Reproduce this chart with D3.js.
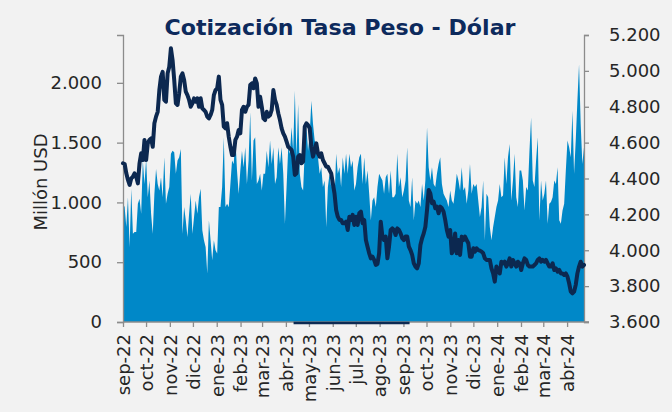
<!DOCTYPE html>
<html>
<head>
<meta charset="utf-8">
<script src="https://cdn.jsdelivr.net/npm/d3@7"></script>
<style>
  body { margin: 0; background: #f2f2f2; }
  svg { display: block; }
</style>
</head>
<body>
<script>
// datos (muestras regulares entre inicio y fin)
var fechaInicio = new Date(2022, 8, 1)
var fechaFin = new Date(2024, 3, 23)

// volumen negociado, millones de USD (eje izquierdo)
var volumen = [
  989, 961, 794, 1044, 628, 1114, 739, 753, 753, 989,
  1030, 906, 1350, 1155, 1364, 1044, 1183, 906, 739, 1072,
  1280, 1155, 1100, 1211, 1044, 1378, 989, 1072, 1128, 1406,
  1433, 1419, 1239, 1350, 1378, 1447, 739, 961, 850, 711,
  906, 1072, 739, 878, 1017, 906, 1044, 1114, 767, 683,
  628, 405, 850, 683, 517, 683, 600, 572, 961, 961,
  1128, 1544, 961, 989, 961, 1155, 1350, 1322, 1544,
  1267, 1072, 1267, 1433, 1294, 1461, 1155, 1350, 1753, 1183,
  1517, 1544, 1155, 1183, 1239, 1100, 1239, 1239, 1433, 1294,
  1517, 1322, 1461, 1155, 1211, 1461, 1322, 1461, 1239, 822,
  1128, 1461, 1406, 1628, 1433, 1933, 1378, 1822, 1239, 1128,
  1100, 1433, 1628, 1433, 1572, 1850, 1656, 1517, 1489, 1378,
  1239, 1294, 1128, 1183, 794, 1128, 1239, 1128, 1239, 1017,
  1406, 1239, 1294, 1128, 1378, 1239, 1406, 1239, 1406, 1294,
  1350,
  1100, 1155, 1294, 1378, 1406, 1155, 1378, 1155, 1267, 1072,
  850, 1017, 1044, 961, 1128, 1239, 1211, 1183, 1072, 1211,
  1239, 1072, 1267, 1044, 1044, 1072, 1406, 1128, 1211, 1044,
  1100, 1183, 1461, 1017, 961, 1211, 850, 1017, 989, 1017,
  961, 1155, 1017, 1183, 1628, 1294, 1183, 1294, 1155, 1128,
  1239, 1322, 1378, 1155, 1072, 1044, 1017, 961, 1100, 1017,
  989, 1100, 1239, 1183, 1100, 1294, 1100, 1128, 989, 1100,
  1322,
  1072, 1155, 1128, 1155, 1017, 878, 961, 1183, 683, 1072,
  1044, 794, 683, 794, 878, 961, 1017, 1155, 1044, 1058,
  1378, 1155, 1378, 1489, 1017, 1183, 1406, 1044, 961, 1267,
  1267, 1183, 933, 1128, 1100, 1433, 1711, 1183, 1128, 1350,
  1544, 850, 1183, 1017, 1072, 1183, 822, 989, 1003, 1044,
  1183, 1155, 1294, 850, 822, 933, 989, 1267, 1517, 1461,
  1378, 1767, 1239, 1517, 1850, 2156, 1656, 1322, 1461
]

// tasa de cambio COP por USD (eje derecho)
var tasa = [
  4485, 4481, 4429, 4392, 4364, 4401, 4410, 4429, 4410, 4373,
  4485, 4540, 4503, 4615, 4503, 4596, 4615, 4624, 4577, 4708,
  4745, 4772, 4893, 4968, 4995, 4838, 4828, 4986, 5023, 5126,
  5061, 4949, 4819, 4810, 4875, 4968, 4986, 4949, 4884, 4865,
  4838, 4800, 4819, 4847, 4828, 4847, 4800, 4847, 4791, 4782,
  4772, 4745, 4735, 4754, 4782, 4865, 4893, 4903, 4968, 4838,
  4810, 4689, 4680, 4708, 4633, 4577, 4531, 4531, 4615,
  4633, 4670, 4652, 4782, 4800, 4772, 4800, 4810, 4921, 4930,
  4903, 4958, 4930, 4800, 4856, 4800, 4735, 4726, 4772, 4745,
  4754, 4782, 4893, 4838, 4810, 4763, 4726, 4680, 4652, 4633,
  4605, 4577, 4568, 4559, 4522, 4420, 4429, 4522, 4531, 4485,
  4494, 4689, 4708, 4698, 4680, 4577, 4522, 4559, 4596, 4540,
  4522, 4540, 4503, 4485, 4466, 4466, 4447, 4429, 4373, 4317,
  4224, 4187, 4169, 4169, 4150, 4150, 4159, 4113, 4187, 4169,
  4197,
  4141, 4187, 4141, 4206, 4215, 4150, 4169, 4057, 4020, 3983,
  3955, 3964, 3946, 3918, 3923, 3983, 4159, 4076, 4057, 4076,
  3955, 4020, 4113, 4122, 4113, 4085, 4122, 4113, 4094, 4067,
  4057, 4076, 4076, 4020, 4001, 3974, 3927, 3909, 3899, 3927,
  4029, 4067, 4094, 4131, 4224, 4336, 4317, 4262, 4271, 4234,
  4243, 4206, 4243, 4234, 4215, 4169, 4113, 4076, 4113, 3983,
  4001, 4094, 3983, 4057, 3974, 4076, 4057, 4076, 4057, 4039,
  3964,
  3964, 4011, 3992, 4011, 4001, 3998, 3992, 3983, 3955, 3946,
  3946, 3946, 3899, 3871, 3825, 3909, 3890, 3871, 3936, 3927,
  3936, 3909, 3927, 3955, 3909, 3946, 3927, 3909, 3936, 3927,
  3890, 3927, 3955, 3946, 3918, 3909, 3909, 3909, 3918, 3927,
  3946, 3955, 3936, 3946, 3936, 3946, 3927, 3909, 3909, 3927,
  3890, 3899, 3881, 3890, 3871, 3871, 3862, 3871, 3853, 3816,
  3769, 3760, 3769, 3807, 3871, 3909, 3936, 3909, 3918
]

// tramo oscuro sobre la base del eje
var tramoBase = ["2023-04-11", "2023-09-09"]

var etiquetasMes = ["sep-22", "oct-22", "nov-22", "dic-22", "ene-23", "feb-23", "mar-23", "abr-23",
  "may-23", "jun-23", "jul-23", "ago-23", "sep-23", "oct-23", "nov-23", "dic-23",
  "ene-24", "feb-24", "mar-24", "abr-24"]
var ticksIzq = [0, 500, 1000, 1500, 2000]
var ticksDer = [3600, 3800, 4000, 4200, 4400, 4600, 4800, 5000, 5200]

var W = 672, H = 412
var margen = {left: 123, right: 584, top: 35, bottom: 322}

var loc = d3.formatLocale({decimal: ",", thousands: ".", grouping: [3], currency: ["$", ""]})
var fmt = loc.format(",.0f")

var fuente = "'DejaVu Sans', sans-serif"
var gris = "#8c8c8c"

var svg = d3.select("body").append("svg")
  .attr("width", W)
  .attr("height", H)

svg.append("rect").attr("width", W).attr("height", H).attr("fill", "#f2f2f2")

var fechas = volumen.map(function(d, i){
  return new Date(+fechaInicio + i * (fechaFin - fechaInicio) / (volumen.length - 1))
})

var x = d3.scaleTime().domain([fechaInicio, fechaFin]).range([margen.left, margen.right])
var yIzq = d3.scaleLinear().domain([0, 2400]).range([margen.bottom, margen.top])
var yDer = d3.scaleLinear().domain([3600, 5200]).range([margen.bottom, margen.top])

/* AREA DE VOLUMEN */

var area = d3.area()
  .x(function(d, i){ return x(fechas[i]) })
  .y0(yIzq(0))
  .y1(function(d){ return yIzq(d) })

svg.append("path")
  .datum(volumen)
  .attr("d", area)
  .attr("fill", "#0088c8")

/* EJES */

var ejeIzq = d3.axisLeft(yIzq).tickValues(ticksIzq).tickFormat(fmt).tickSizeOuter(0).tickSize(6).tickPadding(15)
var ejeDer = d3.axisRight(yDer).tickValues(ticksDer).tickFormat(fmt).tickSizeOuter(0).tickSize(5).tickPadding(20)
var meses = d3.timeMonth.range(fechaInicio, fechaFin)
var ejeX = d3.axisBottom(x).tickValues(meses).tickFormat(function(d, i){ return etiquetasMes[i] }).tickSizeOuter(0).tickSize(5)

function estiloEje(g){
  g.select(".domain").attr("stroke", gris).attr("stroke-width", 1.3)
  g.selectAll(".tick line").attr("stroke", gris).attr("stroke-width", 1.3)
  g.selectAll(".tick text").attr("fill", "#262626").style("font-family", fuente).style("font-size", "18px")
}

svg.append("g")
  .attr("transform", "translate(" + margen.left + ",0)")
  .call(ejeIzq)
  .call(estiloEje)

svg.append("g")
  .attr("transform", "translate(" + margen.right + ",0)")
  .call(ejeDer)
  .call(estiloEje)

var gx = svg.append("g")
  .attr("transform", "translate(0," + margen.bottom + ")")
  .call(ejeX)
  .call(estiloEje)

gx.select(".domain").attr("d", "M" + margen.left + ",0H" + (margen.right + 5))

gx.selectAll(".tick text")
  .attr("transform", "rotate(-90)")
  .attr("text-anchor", "end")
  .attr("x", -12)
  .attr("y", 0)
  .attr("dy", "0.35em")

/* TRAMO OSCURO EN LA BASE */

svg.append("line")
  .attr("x1", x(new Date(tramoBase[0])))
  .attr("x2", x(new Date(tramoBase[1])))
  .attr("y1", yIzq(0) + 1)
  .attr("y2", yIzq(0) + 1)
  .attr("stroke", "#0c2a52")
  .attr("stroke-width", 2.5)

/* LINEA DE LA TASA */

var linea = d3.line()
  .x(function(d, i){ return x(fechas[i]) })
  .y(function(d){ return yDer(d) })

svg.append("path")
  .datum(tasa)
  .attr("d", linea)
  .attr("fill", "none")
  .attr("stroke", "#0c2850")
  .attr("stroke-width", 4)
  .attr("stroke-linejoin", "round")
  .attr("stroke-linecap", "round")

/* TITULOS */

svg.append("text")
  .attr("x", 340)
  .attr("y", 35)
  .attr("text-anchor", "middle")
  .attr("fill", "#0d2a5c")
  .style("font-family", fuente)
  .style("font-weight", "bold")
  .style("font-size", "22px")
  .attr("textLength", 351)
  .attr("lengthAdjust", "spacingAndGlyphs")
  .text("Cotización Tasa Peso - Dólar")

svg.append("text")
  .attr("transform", "translate(47,182) rotate(-90)")
  .attr("text-anchor", "middle")
  .attr("fill", "#262626")
  .style("font-family", fuente)
  .style("font-size", "18px")
  .text("Millón USD")
</script>
</body>
</html>
